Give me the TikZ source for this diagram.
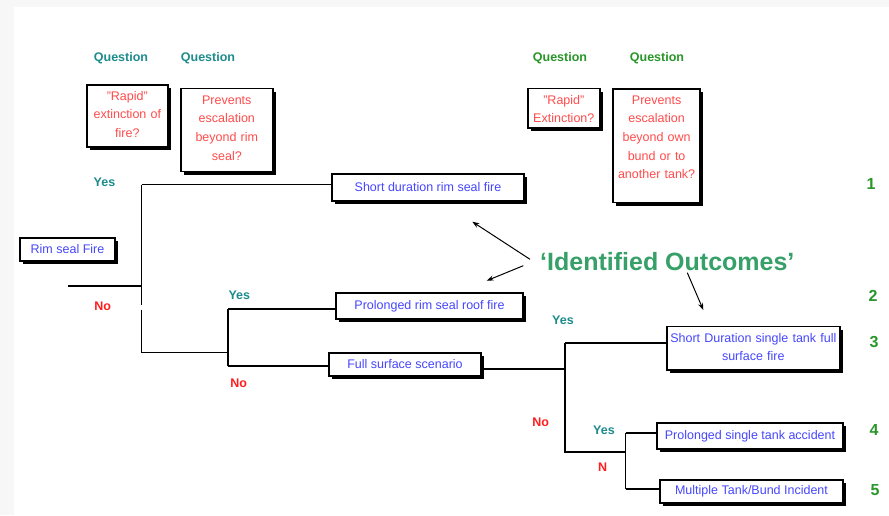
\documentclass[tikz,border=0pt]{standalone}
\usepackage{fontspec}
\setmainfont{Liberation Sans}
\usepackage{xcolor}
\usetikzlibrary{arrows.meta,shadows}

\definecolor{qteal}{RGB}{30,140,140}
\definecolor{qgreen}{RGB}{40,150,40}
\definecolor{qred}{RGB}{255,75,75}
\definecolor{noRed}{RGB}{255,30,30}
\definecolor{outBlue}{RGB}{70,70,255}
\definecolor{idGreen}{RGB}{55,160,105}

\tikzset{
  box/.style={draw=black, line width=1.6pt, fill=white, inner sep=0pt,
    drop shadow={shadow xshift=3pt, shadow yshift=-3pt, opacity=1, fill=black}},
  outbox/.style={box, text=outBlue, font=\fontsize{12.5}{18.4}\selectfont},
  askbox/.style={box, text=qred, align=center, font=\fontsize{12.5}{18.6}\selectfont},
  quest/.style={font=\bfseries\fontsize{12.5}{15}\selectfont},
  yes/.style={text=qteal, font=\bfseries\fontsize{12.5}{15}\selectfont},
  no/.style={text=noRed, font=\bfseries\fontsize{12.5}{15}\selectfont},
  num/.style={text=qgreen, font=\bfseries\fontsize{16}{18}\selectfont},
  branch/.style={line width=1.8pt},
  pointer/.style={line width=1pt, -{Stealth[length=7pt,width=5pt]}},
}

\begin{document}
\begin{tikzpicture}[x=1pt, y=-1pt]
        \useasboundingbox (0,0) rectangle (889,515);
        \fill[gray!6] (0,0) rectangle (889,515);
        \fill[white] (14,7) rectangle (889,515);

        % questions
        \node[quest, text=qteal] (qa) at (121,58) {Question};
        \node[quest, text=qteal] (qb) at (208,58) {Question};
        \node[quest, text=qgreen] (qc) at (560,58) {Question};
        \node[quest, text=qgreen] (qd) at (657,58) {Question};
        \node[askbox, anchor=north west, text width=81pt, text height=15.2pt, text depth=46.5pt] (ask1) at (86,84.3) {"Rapid"\\extinction of\\fire?};
        \node[askbox, anchor=north west, text width=92pt, text height=15.8pt, text depth=67.2pt] (ask2) at (180,87.7) {Prevents\\escalation\\beyond rim\\seal?};
        \node[askbox, anchor=north west, text width=72pt, text height=15.8pt, text depth=23.8pt] (ask3) at (527,87.7) {"Rapid"\\Extinction?};
        \node[askbox, anchor=north west, text width=87pt, text height=15.2pt, text depth=98.2pt] (ask4) at (612.3,88.3) {Prevents\\escalation\\beyond own\\bund or to\\another tank?};

        % outcomes
        \node[outbox, minimum width=95pt, minimum height=23pt] (rim) at (67.5,249.5) {Rim seal Fire};
        \node[outbox, minimum width=192pt, minimum height=27pt] (out1) at (428,187.3) {Short duration rim seal fire};
        \node[outbox, minimum width=187pt, minimum height=26pt] (out2) at (429.5,306) {Prolonged rim seal roof fire};
        \node[outbox, minimum width=152pt, minimum height=23pt] (full) at (405,364.5) {Full surface scenario};
        \node[outbox, align=center, anchor=north west, text width=173pt, text height=15.5pt, text depth=28.1pt, font=\fontsize{12.5}{18.3}\selectfont] (out3) at (666,325.7) {Short Duration single tank full\\surface fire};
        \node[outbox, minimum width=186pt, minimum height=26pt] (out4) at (750,436) {Prolonged single tank accident};
        \node[outbox, minimum width=183pt, minimum height=23pt] (out5) at (751.5,491.5) {Multiple Tank/Bund Incident};

        % branches
        \coordinate (r0) at (68,286);
        \coordinate (j1) at (141.5,286);
        \coordinate (j1y) at (141.5,184.5);
        \coordinate (j1g) at (141.5,305);
        \coordinate (j1h) at (141.5,310);
        \coordinate (j1n) at (141.5,352.5);
        \coordinate (j2) at (228,352.5);
        \coordinate (j2y) at (228,309.3);
        \coordinate (j2n) at (228,366);
        \coordinate (j3) at (565,369.3);
        \coordinate (j3y) at (565,342.7);
        \coordinate (j3n) at (565,451.7);
        \coordinate (j4) at (625.5,451.7);
        \coordinate (j4y) at (625.5,433.3);
        \coordinate (j4n) at (625.5,489.3);
        \draw[branch] (r0) -- (j1);
        \draw[branch] (j1y) -- (j1g) (j1h) -- (j1n);
        \draw[branch] (j1y) -- (j1y -| out1.west);
        \draw[branch] (j1n) -- (j2);
        \draw[branch] (j2y) -- (j2n);
        \draw[branch] (j2y) -- (j2y -| out2.west);
        \draw[branch] (j2n) -- (j2n -| full.west);
        \draw[branch] (j3 -| full.east) -- (j3);
        \draw[branch] (j3y) -- (j3n) -- (j4);
        \draw[branch] (j3y) -- (j3y -| out3.west);
        \draw[branch] (j4y) -- (j4n);
        \draw[branch] (j4y) -- (j4y -| out4.west);
        \draw[branch] (j4n) -- (j4n -| out5.west);

        \node[yes] (y1) at (104.5,182) {Yes};
        \node[no] (n1) at (102.7,306.5) {No};
        \node[yes] (y2) at (239.3,295) {Yes};
        \node[no] (n2) at (238.7,383) {No};
        \node[yes] (y3) at (563,320) {Yes};
        \node[no] (n3) at (540.7,422.7) {No};
        \node[yes] (y4) at (604,430.7) {Yes};
        \node[no] (n4) at (602.7,466.7) {N};

        \node[num] (k1) at (871,184) {1};
        \node[num] (k2) at (873,295.5) {2};
        \node[num] (k3) at (874,341.5) {3};
        \node[num] (k4) at (874,430) {4};
        \node[num] (k5) at (875,490) {5};

        % identified outcomes
        \node[anchor=base west, inner sep=0pt, text=idGreen, font=\bfseries\fontsize{25}{30}\selectfont] (ident) at (540,270.5) {‘Identified Outcomes’};
        \coordinate (p1) at (530,259.3);
        \coordinate (t1) at (472.3,221.7);
        \coordinate (p2) at (523.3,265.7);
        \coordinate (t2) at (486.7,280.7);
        \coordinate (p3) at (687.3,272.7);
        \coordinate (t3) at (703.3,310);
        \draw[pointer] (p1) -- (t1);
        \draw[pointer] (p2) -- (t2);
        \draw[pointer] (p3) -- (t3);
    \end{tikzpicture}
\end{document}
